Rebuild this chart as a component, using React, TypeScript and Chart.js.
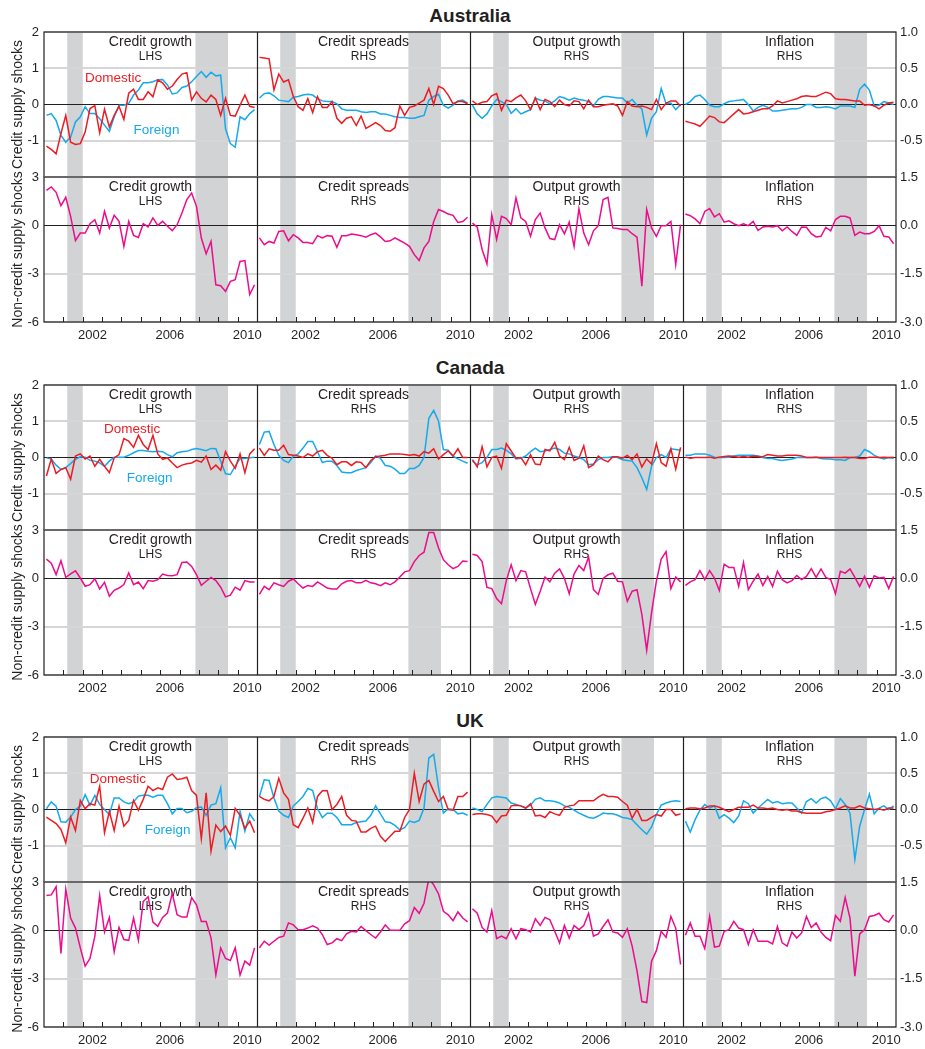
import React, { useEffect, useRef } from 'react';
import { Chart, registerables } from 'chart.js';

Chart.register(...registerables);

// ---------- labels / categories ----------
const PANEL_TITLES = ['Credit growth', 'Credit spreads', 'Output growth', 'Inflation'];
const PANEL_SIDES = ['LHS', 'RHS', 'RHS', 'RHS'];
const X_TICK_YEARS = [2002, 2006, 2010];
const RECESSIONS = [[2001.2, 2002.0], [2007.82, 2009.5]];
const FIRST_YEAR = 2000;
const YEARS_PER_PANEL = 11;
const LEFT_TICKS_TOP = [-2, -1, 0, 1, 2];
const RIGHT_TICKS_TOP = [-1, -0.5, 0, 0.5, 1];
const LEFT_TICKS_BOTTOM = [-6, -3, 0, 3];
const RIGHT_TICKS_BOTTOM = [-3, -1.5, 0, 1.5];

// ---------- Australia ----------
const ausDomCredit = [-1.15,-1.24,-1.36,-0.8,-0.3,-1.04,-1.1,-1.08,-0.76,-0.11,-0.03,-0.78,-0.13,-0.62,-0.3,-0.05,-0.41,0.31,0.42,0.14,0.14,0.35,0.21,0.68,0.6,0.42,0.51,0.69,0.84,0.88,0.12,0.35,0.17,0.07,0.26,0.14,-0.3,0.17,-0.3,-0.32,-0.02,0.26,-0.05,-0.08];
const ausForCredit = [-0.3,-0.25,-0.44,-0.85,-1.04,-0.9,-0.48,-0.34,-0.06,-0.25,-0.25,-0.39,-0.57,-0.74,-0.34,-0.02,-0.02,0.03,0.26,0.4,0.6,0.6,0.63,0.68,0.69,0.54,0.29,0.32,0.47,0.51,0.63,0.77,0.91,0.75,0.89,0.79,0.81,-0.67,-1.08,-1.18,-0.34,-0.42,-0.25,-0.14];
const ausNonCredit = [2.17,2.38,2.05,1.22,1.74,0.56,-0.95,-0.48,-0.48,0.1,0.35,-0.48,0.87,-0.17,0.62,0.25,-1.3,0.25,-0.62,-0.75,0.1,-0.1,0.46,0,0.25,-0.06,-0.33,0.04,0.77,1.6,2.0,1.18,-0.79,-1.76,-0.99,-3.69,-3.75,-4.1,-3.48,-3.37,-2.24,-2.19,-4.3,-3.69];
const ausDomSpread = [0.65,0.64,0.63,0.2,0.42,0.31,0.34,0.11,-0.03,-0.08,0.08,-0.11,0.11,-0.04,-0.04,0.04,-0.19,-0.26,-0.19,-0.17,-0.29,-0.16,-0.33,-0.29,-0.25,-0.29,-0.36,-0.37,-0.32,-0.02,-0.15,-0.04,-0.02,0.02,0.06,0.22,0,0.25,0.22,0.13,0.01,0.04,0.04,0.01];
const ausForSpread = [0.09,0.15,0.16,0.12,0.06,0.05,0.04,0.1,0.11,0.13,0.14,0.13,0.08,0.05,0.04,0.04,0.01,-0.06,-0.08,-0.08,-0.08,-0.1,-0.11,-0.1,-0.1,-0.13,-0.13,-0.15,-0.17,-0.18,-0.18,-0.19,-0.19,-0.17,-0.15,0.06,0.11,0.14,-0.01,-0.05,-0.01,0.05,0.06,0.02];
const ausNonSpread = [-0.39,-0.6,-0.5,-0.55,-0.19,-0.17,-0.48,-0.29,-0.39,-0.53,-0.53,-0.57,-0.32,-0.39,-0.32,-0.34,-0.68,-0.32,-0.32,-0.27,-0.29,-0.32,-0.37,-0.29,-0.24,-0.36,-0.5,-0.48,-0.39,-0.47,-0.55,-0.65,-0.91,-1.09,-0.7,-0.5,0.12,0.49,0.43,0.35,0.31,0.09,0.12,0.25];
const ausDomOutput = [0.05,0,0.03,0.04,0.12,0.15,-0.08,0.06,0.04,0.09,0.13,0.05,-0.07,0.09,-0.07,0.07,0.04,-0.03,0.06,0,-0.02,0.05,0.04,-0.06,0.06,-0.03,-0.03,-0.01,0,0.01,-0.02,-0.15,0.04,-0.02,-0.03,-0.02,-0.04,-0.07,0.07,-0.07,0.02,0.05,0.05,-0.02];
const ausForOutput = [-0.01,-0.13,-0.19,-0.13,-0.02,0.07,0.04,0,-0.12,-0.06,-0.13,-0.1,-0.07,0.09,0.06,0.05,0.01,0.05,0.11,0.09,0.06,0.09,0.07,0.06,0.04,-0.02,0.07,0.11,0.11,0.1,0.09,0.09,0.02,0.07,-0.01,-0.06,-0.42,-0.19,-0.1,0.22,0.01,0.02,-0.07,0];
const ausNonOutput = [0.07,-0.06,-0.75,-1.2,0.33,-0.44,0.28,0.21,0.02,0.85,0.23,0.12,-0.34,0.18,0.38,-0.08,-0.41,-0.44,0.02,-0.26,0.1,-0.65,0.52,-0.24,-0.6,-0.17,-0.01,0.8,0.87,-0.08,-0.1,-0.13,-0.13,-0.26,-0.37,-1.89,0.49,-0.08,-0.34,-0.01,-0.01,0.12,-1.22,0.02];
const ausDomInfl = [-0.23,-0.25,-0.27,-0.3,-0.23,-0.16,-0.18,-0.24,-0.25,-0.19,-0.13,-0.07,-0.13,-0.12,-0.1,-0.08,-0.06,-0.06,-0.02,0.05,0.02,0.04,0.06,0.08,0.11,0.12,0.11,0.11,0.14,0.17,0.15,0.08,0.07,0.07,0.06,0.05,0.05,-0.01,0,-0.02,-0.06,-0.01,0.02,0.03];
const ausForInfl = [0,0.04,0.11,0.13,0.07,-0.01,-0.03,-0.03,0.01,0.04,0.05,0.06,0.07,0,-0.09,-0.04,-0.01,-0.04,-0.09,-0.09,-0.08,-0.07,-0.06,-0.06,-0.04,0,0,-0.04,-0.04,-0.03,-0.04,-0.06,-0.02,-0.02,-0.02,-0.04,0.21,0.28,0.2,-0.02,-0.01,0.04,0.02,0];
const ausNonInfl = [0.35,0.3,0.2,0.05,0.43,0.52,0.26,0.36,0.1,0.14,0.05,-0.01,0.05,-0.01,0.12,-0.16,-0.05,-0.03,-0.05,-0.01,-0.17,-0.05,-0.19,-0.31,-0.05,-0.06,-0.26,-0.36,-0.34,-0.06,-0.17,0.18,0.28,0.28,0.23,-0.31,-0.21,-0.26,-0.26,-0.19,-0.01,-0.34,-0.36,-0.57];

// ---------- Canada ----------
const canDomCredit = [-0.51,-0.04,-0.44,-0.33,-0.28,-0.6,0.04,0.1,-0.04,0.04,-0.24,-0.05,-0.24,-0.42,-0.01,0.08,0.52,0.45,0.28,0.61,0.36,0.22,0.61,0.1,-0.05,-0.01,-0.15,-0.28,-0.21,-0.17,-0.15,-0.08,-0.13,0.04,-0.33,-0.21,-0.35,0.16,-0.1,-0.3,0.1,-0.42,0.1,0.24];
const canForCredit = [-0.01,-0.04,-0.21,-0.33,-0.28,-0.17,-0.05,0.02,0.01,-0.08,-0.1,-0.15,-0.24,-0.1,0.01,0.01,0.01,0.06,0.13,0.19,0.19,0.17,0.16,0.17,0.16,0.08,0.02,0.13,0.16,0.17,0.22,0.25,0.22,0.19,0.25,0.24,-0.1,-0.45,-0.47,-0.24,-0.03,-0.03,-0.01,0.01];
const canNonCredit = [1.19,0.94,0.23,1.09,0.06,0.27,0.47,0.02,-0.49,-0.39,-0.02,-0.66,-0.25,-1.11,-0.74,-0.6,-0.39,0.33,-0.39,-0.23,-0.64,-0.14,-0.18,-0.08,0.27,0.18,0.16,0.23,0.99,1.01,0.74,0.23,-0.43,-0.18,0.06,-0.14,-0.55,-1.15,-1.05,-0.55,-0.74,-0.14,-0.23,-0.23];
const canDomSpread = [0.13,0.03,0.12,0.1,0.1,0.17,0.04,0.03,0.02,0,0.05,0.02,0.08,0.1,0.03,-0.01,-0.1,-0.06,-0.06,-0.11,-0.06,-0.07,-0.14,-0.04,0.01,0.02,0.03,0.05,0.05,0.05,0.04,0.03,0.04,0.02,0.08,0.06,0.12,-0.02,0.04,0.09,0.02,0.12,0,0];
const canForSpread = [0.18,0.35,0.36,0.18,0.03,-0.04,-0.07,0.02,0.05,0.13,0.22,0.22,0.08,-0.07,-0.05,-0.05,-0.11,-0.2,-0.21,-0.21,-0.18,-0.16,-0.14,-0.07,0.02,-0.01,-0.11,-0.12,-0.16,-0.22,-0.22,-0.15,-0.15,-0.11,0,0.54,0.65,0.5,0.11,0.1,0.02,-0.02,-0.05,-0.08];
const canNonSpread = [-0.5,-0.25,-0.35,-0.14,-0.2,-0.25,-0.09,-0.02,-0.17,-0.3,-0.22,-0.25,-0.11,-0.2,-0.3,-0.33,-0.33,-0.17,-0.09,-0.07,-0.14,-0.14,-0.06,-0.14,-0.17,-0.23,-0.14,-0.2,-0.11,0.04,0.2,0.24,0.52,0.71,0.81,1.42,1.42,0.94,0.58,0.42,0.3,0.37,0.54,0.52];
const canDomOutput = [-0.03,-0.13,0.15,-0.13,0,0.02,-0.15,0.19,0.09,-0.01,0,-0.1,0.04,-0.09,-0.1,0.11,0.09,0.21,0.02,-0.03,0.14,-0.04,-0.01,0.16,-0.14,-0.1,0.02,-0.03,-0.06,0.01,0.01,-0.01,0.03,-0.03,0.05,-0.13,-0.02,-0.09,0.19,-0.07,-0.12,0.12,-0.16,0.14];
const canForOutput = [-0.05,-0.1,-0.07,0,0.11,0.11,0.13,0.1,0.05,-0.02,-0.01,0.02,0.08,0.13,0.08,0.09,0.11,0.13,0.11,0.06,0.05,0.02,0,-0.03,-0.1,-0.09,-0.03,0,0,0.01,0,-0.03,-0.04,-0.05,-0.14,-0.28,-0.44,-0.12,0,0.04,0,0.12,0.11,0.1];
const canNonOutput = [0.75,0.71,0.52,-0.28,-0.32,-0.63,-0.79,-0.07,0.42,-0.07,0.24,0.2,-0.32,-0.81,-0.4,0.04,-0.11,0.16,0.29,0,-0.48,0.13,0.4,0.24,0.66,-0.35,-0.5,0,0.11,0.16,-0.09,-0.11,-0.71,-0.4,-0.35,-1.12,-2.23,-1.07,-0.09,0.6,0.83,-0.32,0.04,-0.11];
const canDomInfl = [0.005,-0.01,0,0,0,0.005,-0.01,0.005,0.015,0.02,0.015,0.005,0.015,0.005,0.02,0.015,0.01,0.04,0.03,0.02,0.02,0.03,0.03,0.03,0.02,0,0,0.005,0,0,0,0,0,0.005,0,0,-0.015,-0.015,0.005,0.005,0,0.005,0,0.005];
const canForInfl = [0.03,0.03,0.05,0.05,0.05,0.03,0.005,0,0,0.005,0.02,0.03,0.03,0.03,0.03,0.02,0,-0.015,-0.015,-0.03,-0.04,-0.03,-0.02,0,0,0,0,0.005,-0.015,-0.02,-0.02,-0.03,-0.03,-0.04,0,0.005,0.02,0.11,0.08,0.03,0,-0.02,0,-0.015];
const canNonInfl = [-0.22,-0.11,-0.04,0.24,-0.04,0.24,0.01,-0.38,0.44,0.34,0.34,-0.25,0.49,-0.35,-0.09,0.13,-0.22,0.06,-0.25,0.22,-0.04,-0.14,-0.07,0.09,-0.04,0.06,0.3,0.03,0.29,0.03,-0.04,-0.48,0.22,0.16,0.29,0.03,-0.25,0.06,-0.28,0.08,0.01,0.03,-0.32,0.06];

// ---------- UK ----------
const ukDomCredit = [-0.21,-0.3,-0.39,-0.55,-0.92,-0.21,-0.58,0.25,0.02,0.16,0.12,0.64,-0.64,-0.05,-0.58,0.09,-0.46,-0.3,0.25,-0.02,0.28,0.64,0.52,0.6,0.55,0.89,0.98,0.83,0.85,0.89,0.52,0.39,-0.8,0.46,-1.15,-0.43,-0.61,-0.46,-0.71,0.03,-0.16,-0.52,-0.32,-0.64];
const ukForCredit = [0.02,0.21,0.09,-0.34,-0.35,-0.21,0,0.09,0.41,0.12,0.39,0.14,0,-0.14,0.32,0.32,0.21,0.16,0.21,0.37,0.39,0.39,0.34,0.39,0.39,0.16,-0.12,0.03,0.03,-0.09,-0.05,0.05,0.07,-0.16,0.12,0.16,0.6,-1.06,-0.78,-1.06,-0.05,-0.6,-0.12,-0.32];
const ukNonCredit = [2.16,2.2,2.71,-1.44,2.55,0.76,0.14,-1.09,-2.22,-1.75,-0.37,2.16,-0.1,0.8,-1.33,0.18,-0.57,-0.62,0.76,-0.62,1.79,2.09,0.51,0.25,0.8,1.07,2.3,0.97,0.82,0.82,2.03,1.58,0.55,0.55,-0.47,-2.77,-1.09,-1.75,-1.87,-1.09,-2.77,-1.91,-2.16,-1.09];
const ukDomSpread = [0.18,0.14,0.12,0.18,0.43,0.23,0.14,-0.21,-0.25,-0.12,0.02,-0.18,0.18,0.26,0.26,0,0.07,0.18,-0.08,-0.15,-0.16,-0.31,-0.31,-0.26,-0.23,-0.37,-0.44,-0.37,-0.3,-0.3,-0.11,0,0.5,0.11,0.35,0.4,0.25,0.11,0.18,0,-0.01,0.18,0.18,0.24];
const ukForSpread = [0.18,0.41,0.4,0.16,-0.02,-0.08,-0.11,0.05,0.11,0.18,0.29,0.26,0.01,-0.11,-0.05,-0.05,-0.11,-0.21,-0.21,-0.21,-0.18,-0.17,-0.16,-0.08,0.05,-0.06,-0.17,-0.18,-0.22,-0.28,-0.25,-0.16,-0.18,-0.15,0.02,0.71,0.76,0.3,-0.05,0.01,0,-0.06,-0.05,-0.08];
const ukNonSpread = [-0.54,-0.34,-0.46,-0.34,-0.22,-0.18,0.23,0.17,0.02,0.02,0.07,0.14,0.07,-0.13,-0.44,-0.39,-0.26,-0.32,-0.11,-0.03,-0.05,0.12,-0.01,-0.13,-0.24,-0.05,0.17,0,0,0,0.2,0.3,0.71,0.53,0.84,1.61,1.41,1.13,0.59,0.48,0.3,0.57,0.38,0.26];
const ukDomOutput = [-0.07,-0.06,-0.06,-0.07,-0.09,-0.18,-0.09,-0.08,0.05,0.06,0.05,0.02,0.08,-0.09,-0.08,-0.11,-0.03,-0.06,-0.08,0.03,0.05,0.06,0.12,0.12,0.12,0.12,0.17,0.21,0.18,0.18,0.17,0.11,0.06,-0.12,0,-0.15,-0.15,-0.11,-0.07,-0.09,0,0,-0.08,-0.06];
const ukForOutput = [0.02,0,-0.03,0.07,0.16,0.18,0.17,0.16,0.09,0.07,0.05,0.02,0.06,0.14,0.16,0.12,0.12,0.11,0.09,0.05,0.03,-0.01,-0.05,-0.08,-0.11,-0.12,-0.09,-0.05,-0.06,-0.06,-0.08,-0.11,-0.12,-0.14,-0.21,-0.28,-0.34,-0.24,-0.07,0.06,0.09,0.11,0.12,0.11];
const ukNonOutput = [0.67,0.53,0.09,-0.05,0.61,-0.26,-0.18,-0.26,0.05,-0.26,0.05,0.02,-0.05,0.36,0.15,0.4,0.33,-0.03,-0.39,0.15,-0.24,0.15,0.02,0.15,0.53,-0.18,-0.11,0.12,0.33,-0.05,-0.08,-0.22,0.05,-0.49,-1.26,-2.21,-2.24,-0.96,-0.63,-0.03,-0.22,0.43,0.07,-1.06];
const ukDomInfl = [0.01,0.02,0.02,0.01,0.02,0.05,0.05,0.03,0,-0.03,0,0.03,0.03,0.03,0.06,0.02,0.02,0.01,0.02,0,-0.01,0,-0.02,-0.02,-0.04,-0.05,-0.05,-0.05,-0.05,-0.03,-0.02,0,0.02,0.05,0.02,0.02,0.05,0.02,0.01,0,0.01,-0.01,0.02,0.02];
const ukForInfl = [-0.16,-0.31,-0.14,-0.01,0.07,0.02,0.05,-0.12,-0.07,-0.12,-0.18,-0.09,0.12,0.08,-0.05,0.02,0.08,0.14,0.09,0.11,0.08,0.09,0.09,0.02,-0.05,0.11,0.15,0.09,0.15,0.17,0.12,0.01,0.15,0.07,-0.05,-0.69,-0.23,0,0.21,-0.06,0.02,0.05,0,0.05];
const ukNonInfl = [-0.15,0.23,-0.18,-0.18,-0.57,0.43,-0.52,-0.49,-0.03,0.02,0.28,0.07,0.02,-0.44,0.02,-0.34,-0.34,-0.34,-0.42,0.12,-0.39,-0.49,-0.05,-0.24,-0.08,0.43,0.09,0.23,-0.05,-0.22,-0.32,0.46,0.28,1.02,0.38,-1.42,-0.11,0.02,0.43,0.46,0.53,0.33,0.26,0.48];

// ---------- styling ----------
const FONT = '"Liberation Sans", Arial, Helvetica, sans-serif';
const TEXT = '#231f20';
const RED = '#ec1c24';
const BLUE = '#14aaeb';
const PINK = '#ec0c8c';
const SHADE = '#d1d3d4';
const GRID = '#d6d6d6';

const COUNTRIES = [
  {
    name: 'Australia', titleY: 16, rowTop: 32, rowMid: 177, rowBottom: 322,
    domestic: [ausDomCredit, ausDomSpread, ausDomOutput, ausDomInfl],
    foreign: [ausForCredit, ausForSpread, ausForOutput, ausForInfl],
    nonCredit: [ausNonCredit, ausNonSpread, ausNonOutput, ausNonInfl],
    domLabel: [3.57, 0.72], forLabel: [5.81, -0.71],
  },
  {
    name: 'Canada', titleY: 368, rowTop: 385, rowMid: 530, rowBottom: 675,
    domestic: [canDomCredit, canDomSpread, canDomOutput, canDomInfl],
    foreign: [canForCredit, canForSpread, canForOutput, canForInfl],
    nonCredit: [canNonCredit, canNonSpread, canNonOutput, canNonInfl],
    domLabel: [4.55, 0.78], forLabel: [5.46, -0.56],
  },
  {
    name: 'UK', titleY: 721, rowTop: 737, rowMid: 882, rowBottom: 1027,
    domestic: [ukDomCredit, ukDomSpread, ukDomOutput, ukDomInfl],
    foreign: [ukForCredit, ukForSpread, ukForOutput, ukForInfl],
    nonCredit: [ukNonCredit, ukNonSpread, ukNonOutput, ukNonInfl],
    domLabel: [3.81, 0.82], forLabel: [6.38, -0.57],
  },
];

const PAD_TOP = 10;
const X_AXIS_H = 22;
const LEFT_W = 44;
const RIGHT_W = 29;

function toPoints(values: number[], panel: number) {
  return values.map((v, q) => ({ x: panel * YEARS_PER_PANEL + q * 0.25 + 0.125, y: v }));
}

function makeDataset(values: number[], panel: number, color: string) {
  return {
    data: toPoints(values, panel),
    borderColor: color,
    backgroundColor: color,
    borderWidth: 1.5,
    pointRadius: 0,
    tension: 0,
    fill: false,
    yAxisID: panel === 0 ? 'y' : 'yR',
  };
}

const decorPlugin = {
  id: 'decor',
  beforeDraw(chart: any, _args: any, opts: any) {
    const { ctx, chartArea } = chart;
    const { top, bottom } = chartArea;
    const xs = chart.scales.x;
    ctx.save();
    ctx.fillStyle = SHADE;
    for (let p = 0; p < 4; p++) {
      for (const [a, b] of RECESSIONS) {
        const x1 = xs.getPixelForValue(p * YEARS_PER_PANEL + a - FIRST_YEAR);
        const x2 = xs.getPixelForValue(p * YEARS_PER_PANEL + b - FIRST_YEAR);
        ctx.fillRect(x1, top, x2 - x1, bottom - top);
      }
    }
    ctx.fillStyle = TEXT;
    ctx.textAlign = 'center';
    ctx.textBaseline = 'middle';
    for (let p = 0; p < 4; p++) {
      const cx = (xs.getPixelForValue(p * YEARS_PER_PANEL) + xs.getPixelForValue((p + 1) * YEARS_PER_PANEL)) / 2;
      ctx.font = `14px ${FONT}`;
      ctx.fillText(PANEL_TITLES[p], cx, top + 10);
      ctx.font = `12px ${FONT}`;
      ctx.fillText(PANEL_SIDES[p], cx, top + 25);
    }
    ctx.restore();
  },
  afterDatasetsDraw(chart: any, _args: any, opts: any) {
    const { ctx, chartArea } = chart;
    const { top, bottom, left, right } = chartArea;
    const xs = chart.scales.x;
    ctx.save();
    ctx.strokeStyle = TEXT;
    ctx.lineWidth = 1.2;
    ctx.strokeRect(left, top, right - left, bottom - top);
    ctx.beginPath();
    for (let p = 1; p < 4; p++) {
      const x = Math.round(xs.getPixelForValue(p * YEARS_PER_PANEL)) + 0.5;
      ctx.moveTo(x, top);
      ctx.lineTo(x, bottom);
    }
    ctx.stroke();
    if (opts.yearTicks) {
      ctx.lineWidth = 1;
      ctx.beginPath();
      for (let p = 0; p < 4; p++) {
        for (let k = 1; k < YEARS_PER_PANEL; k++) {
          const x = Math.round(xs.getPixelForValue(p * YEARS_PER_PANEL + k)) + 0.5;
          ctx.moveTo(x, bottom);
          ctx.lineTo(x, bottom - 5);
        }
      }
      ctx.stroke();
    }
    if (opts.labels) {
      const ys = chart.scales.y;
      ctx.font = `13.5px ${FONT}`;
      ctx.textAlign = 'center';
      ctx.textBaseline = 'middle';
      for (const lab of opts.labels) {
        ctx.fillStyle = lab.color;
        ctx.fillText(lab.text, xs.getPixelForValue(lab.x), ys.getPixelForValue(lab.y));
      }
    }
    ctx.restore();
  },
};

function gridColor(c: any) {
  return c.tick && c.tick.value === 0 ? TEXT : GRID;
}
function gridWidth(c: any) {
  return c.tick && c.tick.value === 0 ? 1 : 2;
}

function buildConfig(country: any, isTop: boolean) {
  const datasets: any[] = [];
  for (let p = 0; p < 4; p++) {
    if (isTop) {
      datasets.push(makeDataset(country.domestic[p], p, RED));
      datasets.push(makeDataset(country.foreign[p], p, BLUE));
    } else {
      datasets.push(makeDataset(country.nonCredit[p], p, PINK));
    }
  }
  const leftTicks = isTop ? LEFT_TICKS_TOP : LEFT_TICKS_BOTTOM;
  const rightTicks = isTop ? RIGHT_TICKS_TOP : RIGHT_TICKS_BOTTOM;
  const xTickValues: number[] = [];
  for (let p = 0; p < 4; p++) {
    for (const yr of X_TICK_YEARS) xTickValues.push(p * YEARS_PER_PANEL + (yr - FIRST_YEAR) + 0.5);
  }
  const tickFont = { family: FONT, size: 13 };
  return {
    type: 'line',
    data: { datasets },
    options: {
      animation: false,
      responsive: false,
      maintainAspectRatio: false,
      events: [],
      layout: { padding: { top: PAD_TOP, left: 0, right: 0, bottom: 0 } },
      plugins: {
        legend: { display: false },
        tooltip: { enabled: false },
        title: { display: false },
        decor: {
          yearTicks: !isTop,
          labels: isTop
            ? [
                { text: 'Domestic', color: RED, x: country.domLabel[0], y: country.domLabel[1] },
                { text: 'Foreign', color: BLUE, x: country.forLabel[0], y: country.forLabel[1] },
              ]
            : null,
        },
      },
      scales: {
        x: {
          type: 'linear',
          min: 0,
          max: 4 * YEARS_PER_PANEL,
          display: !isTop,
          grid: { display: false, drawTicks: false },
          border: { display: false },
          afterBuildTicks: (s: any) => {
            s.ticks = xTickValues.map((v) => ({ value: v }));
          },
          ticks: {
            autoSkip: false,
            maxRotation: 0,
            minRotation: 0,
            padding: 5.5,
            color: TEXT,
            font: tickFont,
            callback: (v: number) => {
              const local = v - Math.floor(v / YEARS_PER_PANEL) * YEARS_PER_PANEL;
              return String(FIRST_YEAR + Math.floor(local));
            },
          },
          afterFit: (s: any) => {
            if (!isTop) s.height = X_AXIS_H;
            s.paddingLeft = 0;
            s.paddingRight = 0;
          },
        },
        y: {
          type: 'linear',
          position: 'left',
          min: leftTicks[0],
          max: leftTicks[leftTicks.length - 1],
          afterBuildTicks: (s: any) => {
            s.ticks = leftTicks.map((v) => ({ value: v }));
          },
          ticks: {
            padding: 5,
            color: TEXT,
            font: tickFont,
            callback: (v: number) => (isTop && v === leftTicks[0] ? '' : String(v)),
          },
          grid: { color: gridColor, lineWidth: gridWidth, drawTicks: false },
          border: { display: false },
          title: {
            display: true,
            text: isTop ? 'Credit supply shocks' : 'Non-credit supply shocks',
            color: TEXT,
            font: { family: FONT, size: 14 },
            padding: { top: 9.6, bottom: 0 },
          },
          afterFit: (s: any) => {
            s.width = LEFT_W;
            s.paddingTop = 0;
            s.paddingBottom = 0;
          },
        },
        yR: {
          type: 'linear',
          position: 'right',
          min: rightTicks[0],
          max: rightTicks[rightTicks.length - 1],
          afterBuildTicks: (s: any) => {
            s.ticks = rightTicks.map((v) => ({ value: v }));
          },
          ticks: {
            padding: 4,
            color: TEXT,
            font: tickFont,
            callback: (v: number) => (isTop && v === rightTicks[0] ? '' : v.toFixed(1)),
          },
          grid: { display: false, drawTicks: false },
          border: { display: false },
          afterFit: (s: any) => {
            s.width = RIGHT_W;
            s.paddingTop = 0;
            s.paddingBottom = 0;
          },
        },
      },
    },
    plugins: [decorPlugin],
  };
}

function RowChart({ country, isTop }: { country: any; isTop: boolean }) {
  const ref = useRef<HTMLCanvasElement>(null);
  const top = isTop ? country.rowTop - PAD_TOP : country.rowMid - PAD_TOP;
  const height = isTop
    ? PAD_TOP + (country.rowMid - country.rowTop)
    : PAD_TOP + (country.rowBottom - country.rowMid) + X_AXIS_H;
  useEffect(() => {
    if (!ref.current) return;
    const chart = new Chart(ref.current, buildConfig(country, isTop) as any);
    return () => chart.destroy();
  }, []);
  return (
    <canvas
      ref={ref}
      width={925}
      height={height}
      style={{ position: 'absolute', left: 0, top, width: 925, height, display: 'block' }}
    />
  );
}

export default function App() {
  return (
    <div
      style={{
        position: 'absolute',
        left: 0,
        top: 0,
        width: 925,
        height: 1049,
        overflow: 'hidden',
        background: '#fff',
        fontFamily: FONT,
      }}
    >
      {COUNTRIES.map((c) => (
        <React.Fragment key={c.name}>
          <div
            style={{
              position: 'absolute',
              left: LEFT_W,
              width: 925 - LEFT_W - RIGHT_W,
              top: c.titleY - 12,
              height: 24,
              lineHeight: '24px',
              textAlign: 'center',
              fontWeight: 'bold',
              fontSize: 19,
              color: TEXT,
            }}
          >
            {c.name}
          </div>
          <RowChart country={c} isTop={true} />
          <RowChart country={c} isTop={false} />
        </React.Fragment>
      ))}
    </div>
  );
}
